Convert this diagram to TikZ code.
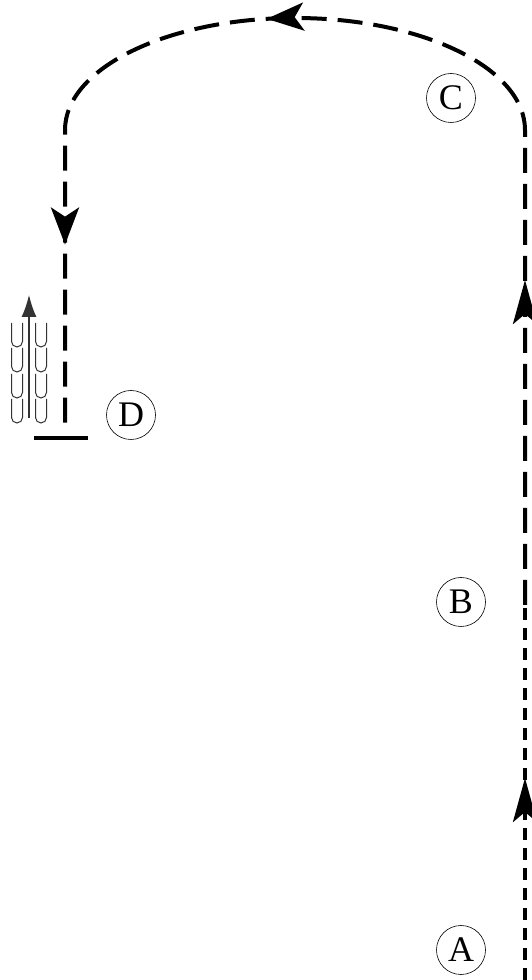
\documentclass[tikz,border=0pt]{standalone}
\usepackage{fontspec}
\setmainfont{Liberation Serif}
\usetikzlibrary{arrows.meta,decorations.markings}
\tikzset{
  rtip/.tip={Stealth[length=37pt,width=28pt,inset=9pt]},
  ltip/.tip={Stealth[length=44pt,width=24pt,inset=10pt]},
  lbl/.style={circle,draw,line width=0.6pt,minimum size=49pt,inner sep=0pt,font=\fontsize{36}{36}\selectfont},
  route/.style={line width=4pt},
  longdash/.style={dash pattern=on 25pt off 11pt},
  shortdash/.style={dash pattern=on 12pt off 8pt},
  plant/.style={line width=1.2pt,draw=black!80},
}
\begin{document}
\begin{tikzpicture}[x=1pt,y=1pt]
\useasboundingbox (0,0) rectangle (532,980);
% labels
\node[lbl] (A) at (461,30) {A};
\node[lbl] (B) at (461,378) {B};
\node[lbl] (C) at (451,882) {C};
\node[lbl] (D) at (131,565) {D};
% route
\coordinate (r0) at (525,0);
\coordinate (r1) at (525,375);
\coordinate (r2) at (525,850);
\coordinate (l0) at (65,553);
\draw[route,shortdash,postaction={decorate,solid},
  decoration={markings,mark=at position 202pt with {\arrow{ltip}}}]
  (r0) -- (r1);
\draw[route,longdash,postaction={decorate,solid},
  decoration={markings,
    mark=at position 325pt with {\arrow{ltip}},
    mark=at position 780pt with {\arrow{rtip}},
    mark=at position 1143pt with {\arrow{rtip}}}]
  (r1) -- (r2) arc[start angle=0,end angle=180,x radius=230,y radius=112] -- (l0);
% ground bar
\coordinate (g0) at (34,542);
\coordinate (g1) at (88,542);
\draw[line width=4pt] (g0) -- (g1);
% plant
\coordinate (p0) at (29,562);
\coordinate (p1) at (29,685);
\draw[plant,-{Latex[length=22pt,width=15pt]}] (p0) -- (p1);
\foreach \t in {657,632,606,581}{
  \foreach \c in {17,41}{
    \draw[plant,line width=1pt] (\c-5.5,\t) -- (\c-5.5,\t-18.5) arc[start angle=180,end angle=360,radius=5.5] -- (\c+5.5,\t);
  }
}
\end{tikzpicture}
\end{document}
